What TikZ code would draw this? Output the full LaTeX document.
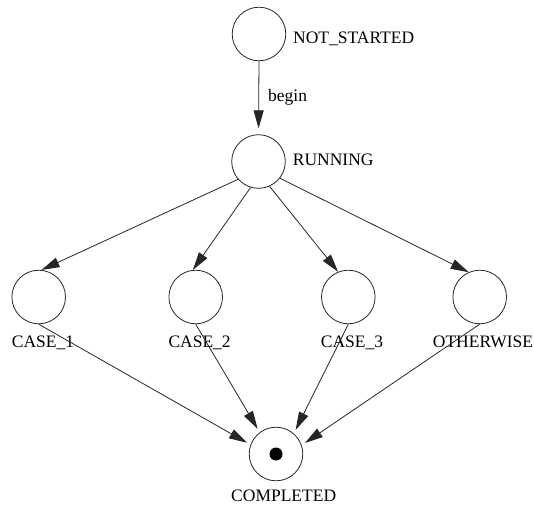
\documentclass[tikz,border=0pt]{standalone}
\usepackage{fontspec}
\setmainfont{Liberation Serif}
\usetikzlibrary{arrows.meta}

\tikzset{
  state/.style={circle, draw=black!85, line width=0.8pt, minimum size=53.6pt, inner sep=0pt},
  lbl/.style={anchor=base west, inner sep=0pt, font=\fontsize{17.5}{20}\selectfont},
  trans/.style={draw=black!85, line width=0.8pt, -{Triangle[length=18pt,width=10pt]}},
}

\begin{document}
\begin{tikzpicture}[x=1pt, y=-1pt]
  \useasboundingbox (0,0) rectangle (534,504);

  % states
  \node[state] (ns)   at (259,34)    {};
  \node[state] (run)  at (258.5,161.5) {};
  \node[state] (c1)   at (38.7,297)  {};
  \node[state] (c2)   at (195.7,297) {};
  \node[state] (c3)   at (348.3,297) {};
  \node[state] (oth)  at (479.7,297) {};
  \node[state] (done) at (276,454)   {};
  \fill[black] (done.center) circle (6.5pt);

  % state names
  \node[lbl] (nsl)   at (293,43)      {NOT\_STARTED};
  \node[lbl] (runl)  at (292.7,165.7) {RUNNING};
  \node[lbl] (c1l)   at (11.7,347.5)  {CASE\_1};
  \node[lbl] (c2l)   at (168.3,347.5) {CASE\_2};
  \node[lbl] (c3l)   at (320.7,347.5) {CASE\_3};
  \node[lbl] (othl)  at (432.7,347.5) {OTHERWISE};
  \node[lbl] (donel) at (231,501)     {COMPLETED};

  % transitions
  \draw[trans, shorten >=6pt] (ns.south) -- node[lbl, anchor=base west, pos=0.5, xshift=9pt, yshift=-4pt] (beginl) {begin} (run.north);
  \draw[trans] (run.221) -- (c1.84);
  \draw[trans] (run.253) -- (c2.96);
  \draw[trans] (run.294) -- (c3.112);
  \draw[trans] (run.322) -- (oth.114);
  \draw[trans, shorten >=4pt] (c1.south)  -- (done.160);
  \draw[trans, shorten >=4pt] (c2.south)  -- (done.127);
  \draw[trans, shorten >=4pt] (c3.south)  -- (done.49);
  \draw[trans, shorten >=4pt] (oth.south) -- (done.19);
\end{tikzpicture}
\end{document}
